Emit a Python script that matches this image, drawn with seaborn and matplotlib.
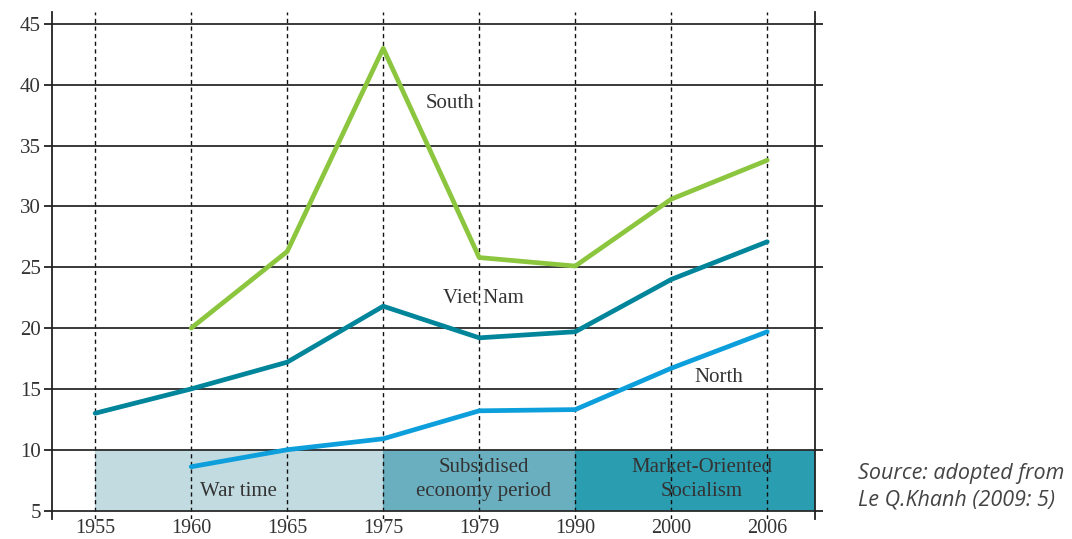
import numpy as np
import pandas as pd
import seaborn as sns
import matplotlib.pyplot as plt

# ─── Data ─────────────────────────────────────────────────────────────────────
years = ["1955", "1960", "1965", "1975", "1979", "1990", "2000", "2006"]
viet_nam = [13.0, 15.0, 17.2, 21.8, 19.2, 19.7, 24.0, 27.1]
south = [np.nan, 20.0, 26.3, 43.0, 25.8, 25.1, 30.6, 33.8]
north = [np.nan, 8.6, 10.0, 10.9, 13.2, 13.3, 16.7, 19.7]

period_names = ["War time", "Subsidised\neconomy period", "Market-Oriented\nSocialism"]
period_start = ["1955", "1975", "1990"]
period_end = ["1975", "1990", None]  # None = to the right edge
period_low, period_high = 5, 10

series = {"Viet Nam": viet_nam, "South": south, "North": north}
colors = {"Viet Nam": "#00859a", "South": "#8cc63f", "North": "#0c9fdb"}
period_colors = ["#c1dbe1", "#6aafbf", "#2a9db0"]

# ─── Long table ───────────────────────────────────────────────────────────────
rows = []
for name, vals in series.items():
    for i, (yr, v) in enumerate(zip(years, vals)):
        if not np.isnan(v):
            rows.append({"pos": i, "year": yr, "rate": v, "region": name})
df = pd.DataFrame(rows)

# ─── Plot ─────────────────────────────────────────────────────────────────────
sns.set_theme(style="white")
plt.rcParams["font.family"] = ["Liberation Serif", "DejaVu Serif"]
text_color = "#333333"

fig = plt.figure(figsize=(10.72, 5.39), dpi=100)
ax = fig.add_axes([0.0485, 0.037, 0.712, 0.941])

xmax = len(years) - 0.5
ax.set_xlim(-0.45, xmax)
ax.set_ylim(4.3, 46)

# period boxes
for name, s, e, c in zip(period_names, period_start, period_end, period_colors):
    x0 = years.index(s)
    x1 = years.index(e) if e else xmax
    ax.fill_between([x0, x1], period_low, period_high, color=c, lw=0, zorder=1)

sns.lineplot(data=df, x="pos", y="rate", hue="region", palette=colors,
             linewidth=3.4, legend=False, sort=True, ax=ax, zorder=3)

# grid
ax.set_yticks(range(5, 46, 5))
ax.set_xticks(range(len(years)))
ax.set_xticklabels(years)
ax.yaxis.grid(True, color="#2a2a2a", linewidth=1.3, linestyle="-")
ax.xaxis.grid(True, color="#111111", linewidth=1.0, linestyle=(0, (3, 2.5)))
ax.set_axisbelow("line")

for side in ["top", "bottom"]:
    ax.spines[side].set_visible(False)
for side in ["left", "right"]:
    ax.spines[side].set_visible(True)
    ax.spines[side].set_color("#222222")
    ax.spines[side].set_linewidth(1.3)

ax.tick_params(axis="y", which="both", left=True, right=True, direction="out",
               length=6, width=1.3, color="#222222", labelsize=15,
               labelcolor=text_color, pad=2)
ax.tick_params(axis="x", length=0, labelsize=14.5, labelcolor=text_color, pad=0)
ax.set_xlabel("")
ax.set_ylabel("")

# series labels
ax.text(3.70, 38.5, "South", fontsize=15, color=text_color, ha="center", va="center", zorder=4)
ax.text(4.04, 22.4, "Viet Nam", fontsize=15, color=text_color, ha="center", va="center", zorder=4)
ax.text(6.50, 15.9, "North", fontsize=15, color=text_color, ha="center", va="center", zorder=4)

# period labels
ax.text(1.09, 6.6, period_names[0], fontsize=15, color=text_color, ha="left", va="center", zorder=4)
ax.text(4.05, 7.55, period_names[1], fontsize=15, color=text_color, ha="center", va="center",
        linespacing=1.3, zorder=4)
ax.text(6.32, 7.55, period_names[2], fontsize=15, color=text_color, ha="center", va="center",
        linespacing=1.3, zorder=4)

fig.text(0.80, 0.097, "Source: adopted from\nLe Q.Khanh (2009: 5)", fontsize=15.5,
         family=["Open Sans", "DejaVu Sans"], style="italic", color="#444444",
         ha="left", va="center", linespacing=1.3)

fig.savefig("out.png", dpi=100)
plt.close(fig)
